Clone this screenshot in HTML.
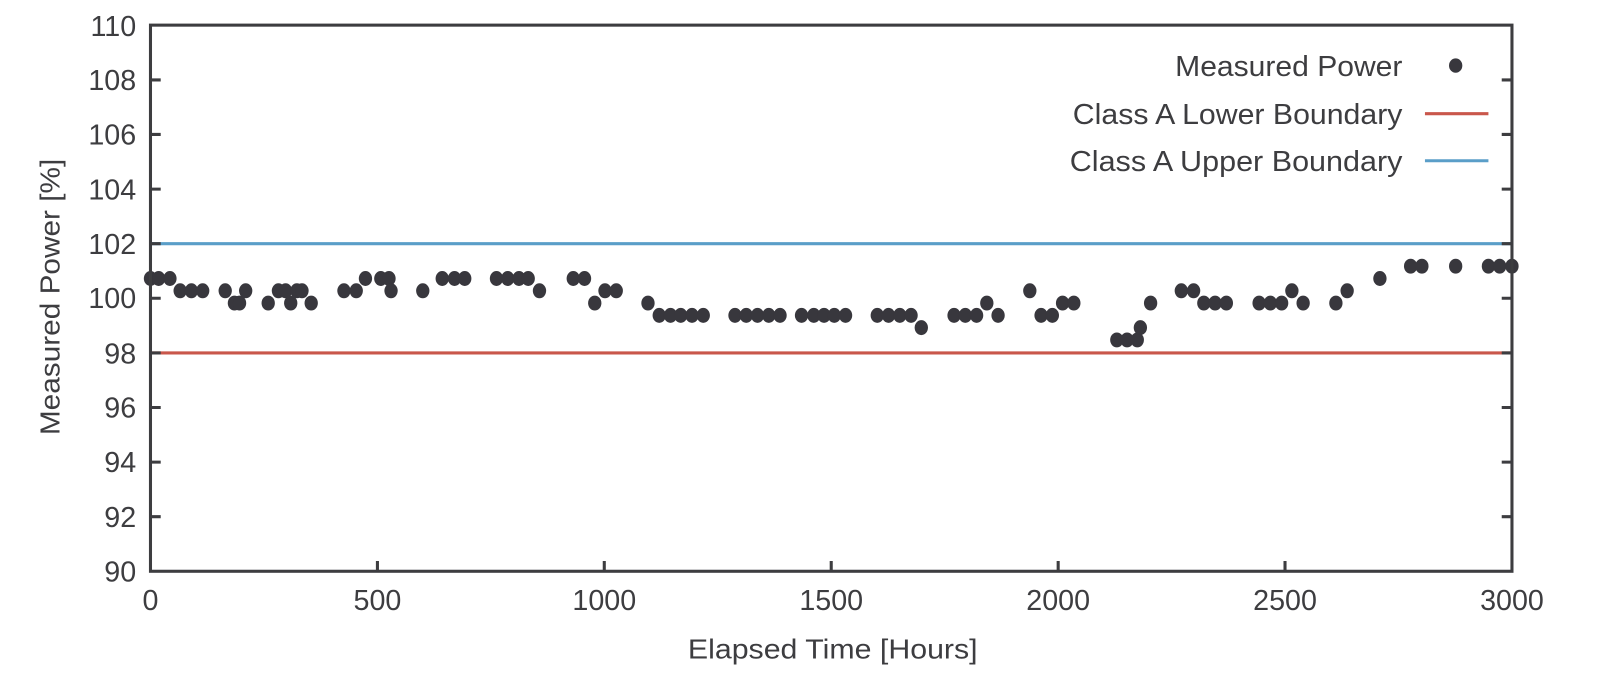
<!DOCTYPE html>
<html><head><meta charset="utf-8"><style>html,body{margin:0;padding:0;background:#fff}svg{display:block}</style></head>
<body>
<svg width="1600" height="687" viewBox="0 0 1563 671" xmlns="http://www.w3.org/2000/svg" font-family="Liberation Sans, sans-serif" fill="#3d3d40">
<line x1="147" y1="238" x2="1477" y2="238" stroke="#5a9ec8" stroke-width="3"/>
<line x1="147" y1="344.7" x2="1477" y2="344.7" stroke="#c9574b" stroke-width="3"/>
<g fill="#38373d">
<ellipse cx="147" cy="272" rx="6.5" ry="7.3"/><ellipse cx="155" cy="272" rx="6.5" ry="7.3"/><ellipse cx="166" cy="272" rx="6.5" ry="7.3"/><ellipse cx="176" cy="284" rx="6.5" ry="7.3"/><ellipse cx="187" cy="284" rx="6.5" ry="7.3"/><ellipse cx="198" cy="284" rx="6.5" ry="7.3"/><ellipse cx="220" cy="284" rx="6.5" ry="7.3"/><ellipse cx="229" cy="296" rx="6.5" ry="7.3"/><ellipse cx="234" cy="296" rx="6.5" ry="7.3"/><ellipse cx="240" cy="284" rx="6.5" ry="7.3"/><ellipse cx="262" cy="296" rx="6.5" ry="7.3"/><ellipse cx="272" cy="284" rx="6.5" ry="7.3"/><ellipse cx="279" cy="284" rx="6.5" ry="7.3"/><ellipse cx="284" cy="296" rx="6.5" ry="7.3"/><ellipse cx="290" cy="284" rx="6.5" ry="7.3"/><ellipse cx="295" cy="284" rx="6.5" ry="7.3"/><ellipse cx="304" cy="296" rx="6.5" ry="7.3"/><ellipse cx="336" cy="284" rx="6.5" ry="7.3"/><ellipse cx="348" cy="284" rx="6.5" ry="7.3"/><ellipse cx="357" cy="272" rx="6.5" ry="7.3"/><ellipse cx="372" cy="272" rx="6.5" ry="7.3"/><ellipse cx="380" cy="272" rx="6.5" ry="7.3"/><ellipse cx="382" cy="284" rx="6.5" ry="7.3"/><ellipse cx="413" cy="284" rx="6.5" ry="7.3"/><ellipse cx="432" cy="272" rx="6.5" ry="7.3"/><ellipse cx="444" cy="272" rx="6.5" ry="7.3"/><ellipse cx="454" cy="272" rx="6.5" ry="7.3"/><ellipse cx="485" cy="272" rx="6.5" ry="7.3"/><ellipse cx="496" cy="272" rx="6.5" ry="7.3"/><ellipse cx="507" cy="272" rx="6.5" ry="7.3"/><ellipse cx="516" cy="272" rx="6.5" ry="7.3"/><ellipse cx="527" cy="284" rx="6.5" ry="7.3"/><ellipse cx="560" cy="272" rx="6.5" ry="7.3"/><ellipse cx="571" cy="272" rx="6.5" ry="7.3"/><ellipse cx="581" cy="296" rx="6.5" ry="7.3"/><ellipse cx="591" cy="284" rx="6.5" ry="7.3"/><ellipse cx="602" cy="284" rx="6.5" ry="7.3"/><ellipse cx="633" cy="296" rx="6.5" ry="7.3"/><ellipse cx="644" cy="308" rx="6.5" ry="7.3"/><ellipse cx="655" cy="308" rx="6.5" ry="7.3"/><ellipse cx="665" cy="308" rx="6.5" ry="7.3"/><ellipse cx="676" cy="308" rx="6.5" ry="7.3"/><ellipse cx="687" cy="308" rx="6.5" ry="7.3"/><ellipse cx="718" cy="308" rx="6.5" ry="7.3"/><ellipse cx="729" cy="308" rx="6.5" ry="7.3"/><ellipse cx="740" cy="308" rx="6.5" ry="7.3"/><ellipse cx="751" cy="308" rx="6.5" ry="7.3"/><ellipse cx="762" cy="308" rx="6.5" ry="7.3"/><ellipse cx="783" cy="308" rx="6.5" ry="7.3"/><ellipse cx="795" cy="308" rx="6.5" ry="7.3"/><ellipse cx="805" cy="308" rx="6.5" ry="7.3"/><ellipse cx="815" cy="308" rx="6.5" ry="7.3"/><ellipse cx="826" cy="308" rx="6.5" ry="7.3"/><ellipse cx="857" cy="308" rx="6.5" ry="7.3"/><ellipse cx="868" cy="308" rx="6.5" ry="7.3"/><ellipse cx="879" cy="308" rx="6.5" ry="7.3"/><ellipse cx="890" cy="308" rx="6.5" ry="7.3"/><ellipse cx="900" cy="320" rx="6.5" ry="7.3"/><ellipse cx="932" cy="308" rx="6.5" ry="7.3"/><ellipse cx="943" cy="308" rx="6.5" ry="7.3"/><ellipse cx="954" cy="308" rx="6.5" ry="7.3"/><ellipse cx="964" cy="296" rx="6.5" ry="7.3"/><ellipse cx="975" cy="308" rx="6.5" ry="7.3"/><ellipse cx="1006" cy="284" rx="6.5" ry="7.3"/><ellipse cx="1017" cy="308" rx="6.5" ry="7.3"/><ellipse cx="1028" cy="308" rx="6.5" ry="7.3"/><ellipse cx="1038" cy="296" rx="6.5" ry="7.3"/><ellipse cx="1049" cy="296" rx="6.5" ry="7.3"/><ellipse cx="1091" cy="332" rx="6.5" ry="7.3"/><ellipse cx="1101" cy="332" rx="6.5" ry="7.3"/><ellipse cx="1111" cy="332" rx="6.5" ry="7.3"/><ellipse cx="1114" cy="320" rx="6.5" ry="7.3"/><ellipse cx="1124" cy="296" rx="6.5" ry="7.3"/><ellipse cx="1154" cy="284" rx="6.5" ry="7.3"/><ellipse cx="1166" cy="284" rx="6.5" ry="7.3"/><ellipse cx="1176" cy="296" rx="6.5" ry="7.3"/><ellipse cx="1187" cy="296" rx="6.5" ry="7.3"/><ellipse cx="1198" cy="296" rx="6.5" ry="7.3"/><ellipse cx="1230" cy="296" rx="6.5" ry="7.3"/><ellipse cx="1241" cy="296" rx="6.5" ry="7.3"/><ellipse cx="1252" cy="296" rx="6.5" ry="7.3"/><ellipse cx="1262" cy="284" rx="6.5" ry="7.3"/><ellipse cx="1273" cy="296" rx="6.5" ry="7.3"/><ellipse cx="1305" cy="296" rx="6.5" ry="7.3"/><ellipse cx="1316" cy="284" rx="6.5" ry="7.3"/><ellipse cx="1348" cy="272" rx="6.5" ry="7.3"/><ellipse cx="1378" cy="260" rx="6.5" ry="7.3"/><ellipse cx="1389" cy="260" rx="6.5" ry="7.3"/><ellipse cx="1422" cy="260" rx="6.5" ry="7.3"/><ellipse cx="1454" cy="260" rx="6.5" ry="7.3"/><ellipse cx="1465" cy="260" rx="6.5" ry="7.3"/><ellipse cx="1477" cy="260" rx="6.5" ry="7.3"/>
</g>
<g stroke="#3d3d40" stroke-width="3" fill="none">
<rect x="147" y="24.5" width="1330" height="533.5"/>
<path d="M147 78h10M147 131.3h10M147 184.7h10M147 238h10M147 291.3h10M147 344.7h10M147 398h10M147 451.4h10M147 504.7h10
M1477 78h-10M1477 131.3h-10M1477 184.7h-10M1477 238h-10M1477 291.3h-10M1477 344.7h-10M1477 398h-10M1477 451.4h-10M1477 504.7h-10
M368.7 558v-10M590.3 558v-10M812 558v-10M1033.7 558v-10M1255.3 558v-10"/>
</g>
<g font-size="28" text-anchor="end">
<text x="133" y="35">110</text><text x="133" y="88">108</text><text x="133" y="141">106</text><text x="133" y="195">104</text><text x="133" y="248">102</text><text x="133" y="301">100</text><text x="133" y="355">98</text><text x="133" y="408">96</text><text x="133" y="461">94</text><text x="133" y="515">92</text><text x="133" y="568">90</text>
</g>
<g font-size="28" text-anchor="middle">
<text x="147" y="596">0</text><text x="368.7" y="596">500</text><text x="590.3" y="596">1000</text><text x="812" y="596">1500</text><text x="1033.7" y="596">2000</text><text x="1255.3" y="596">2500</text><text x="1477" y="596">3000</text>
</g>
<text x="672" y="643" font-size="27" textLength="283" lengthAdjust="spacingAndGlyphs">Elapsed Time [Hours]</text>
<text transform="translate(58 425) rotate(-90)" font-size="27" textLength="270" lengthAdjust="spacingAndGlyphs">Measured Power [%]</text>
<g font-size="28">
<text x="1148" y="74" textLength="222" lengthAdjust="spacingAndGlyphs">Measured Power</text>
<text x="1048" y="121" textLength="322" lengthAdjust="spacingAndGlyphs">Class A Lower Boundary</text>
<text x="1045" y="167" textLength="325" lengthAdjust="spacingAndGlyphs">Class A Upper Boundary</text>
</g>
<ellipse cx="1422" cy="64" rx="6.5" ry="7" fill="#38373d"/>
<line x1="1392" y1="111" x2="1454" y2="111" stroke="#c9574b" stroke-width="3"/>
<line x1="1392" y1="157" x2="1454" y2="157" stroke="#5a9ec8" stroke-width="3"/>
</svg>
</body></html>
